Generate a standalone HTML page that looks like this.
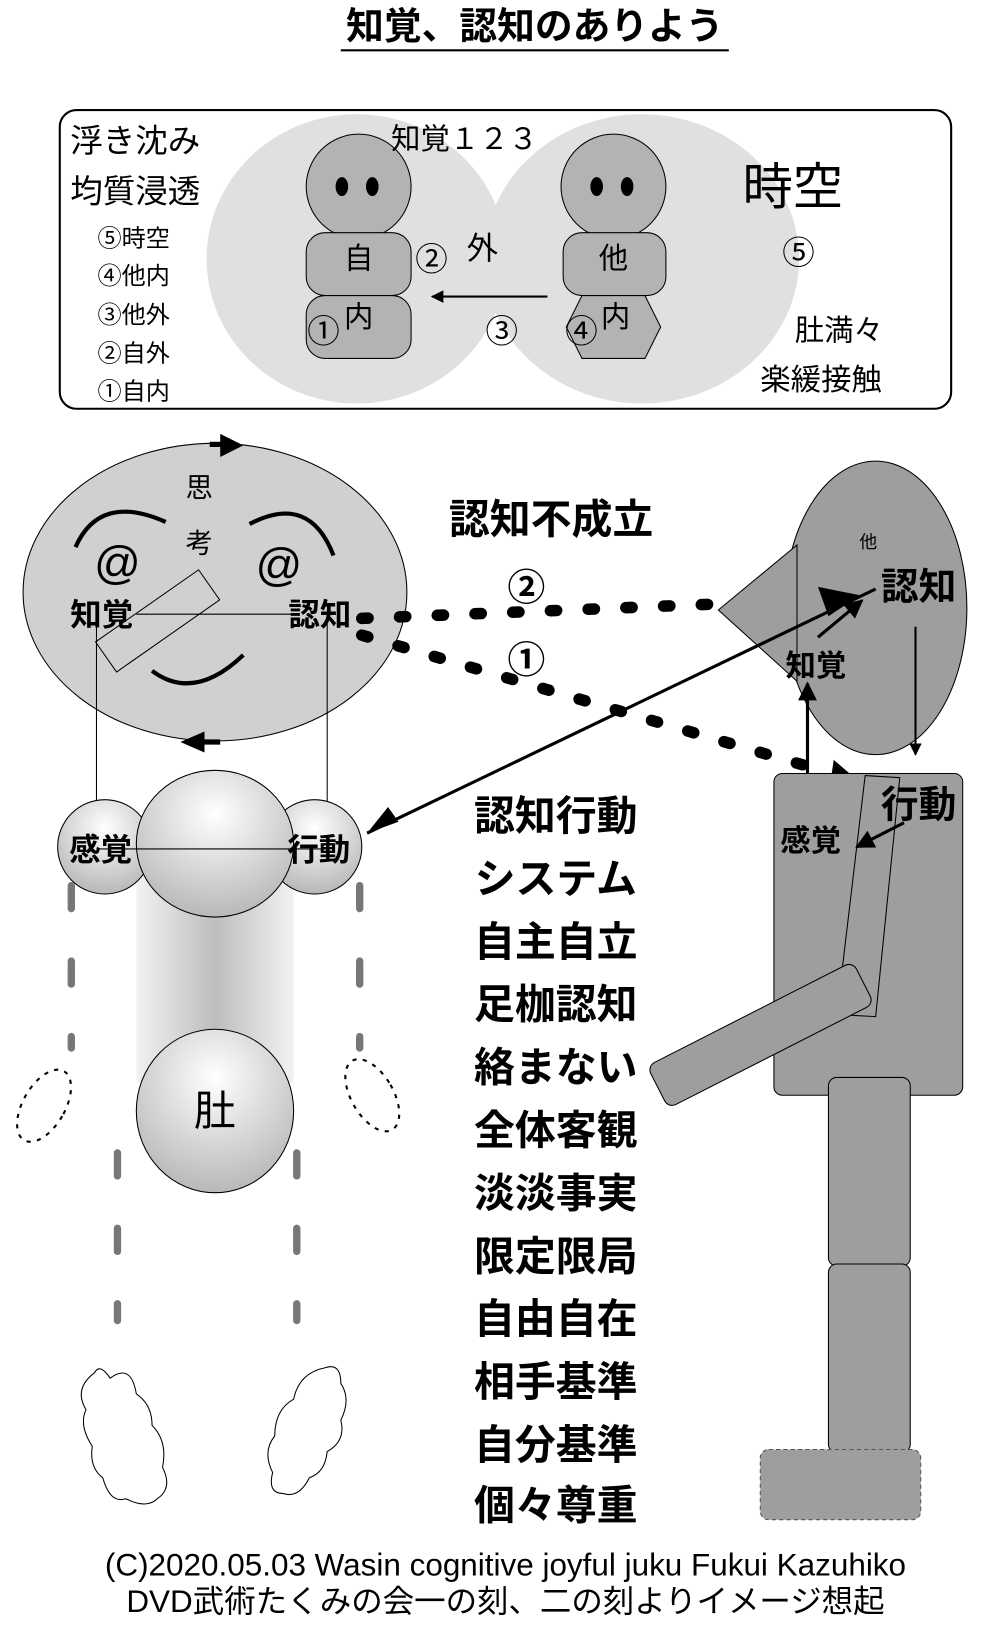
<!DOCTYPE html>
<html><head><meta charset="utf-8"><style>
html,body{margin:0;padding:0;background:#fff;}
svg{display:block;}
text{font-family:"Liberation Sans","Noto Sans CJK JP",sans-serif;}
.b{font-weight:bold;}
</style></head><body>
<svg width="991" height="1635" viewBox="0 0 945 1560" preserveAspectRatio="none" xmlns="http://www.w3.org/2000/svg">
<defs>
<radialGradient id="ball" cx="50%" cy="30%" r="70%"><stop offset="0" stop-color="#fff"/><stop offset="1" stop-color="#b8b8b8"/></radialGradient>
<linearGradient id="col" x1="0" x2="1" y1="0" y2="0"><stop offset="0" stop-color="#f2f2f2"/><stop offset="0.5" stop-color="#bdbdbd"/><stop offset="1" stop-color="#f2f2f2"/></linearGradient>
<marker id="ah" viewBox="0 0 10 10" refX="9" refY="5" markerWidth="6" markerHeight="6" orient="auto"><path d="M0,0L10,5L0,10z" fill="#000"/></marker>
</defs>
<!-- title -->
<text x="510" y="37" font-size="36" class="b" text-anchor="middle">知覚、認知のありよう</text>
<line x1="325" y1="48" x2="695" y2="48" stroke="#000" stroke-width="2"/>
<!-- top box -->
<rect x="57" y="105" width="850" height="285" rx="16" fill="#fff" stroke="#000" stroke-width="2"/>
<ellipse cx="340" cy="247" rx="143" ry="138" fill="#e0e0e0"/>
<ellipse cx="612" cy="247" rx="150" ry="138" fill="#e0e0e0"/>
<circle cx="342" cy="178" r="50" fill="#b3b3b3" stroke="#000"/>
<ellipse cx="326" cy="178" rx="6" ry="9"/><ellipse cx="355" cy="178" rx="6" ry="9"/>
<rect x="292" y="222" width="100" height="60" rx="18" fill="#b3b3b3" stroke="#000"/>
<rect x="292" y="282" width="100" height="60" rx="18" fill="#b3b3b3" stroke="#000"/>
<circle cx="585" cy="178" r="50" fill="#b3b3b3" stroke="#000"/>
<ellipse cx="569" cy="178" rx="6" ry="9"/><ellipse cx="598" cy="178" rx="6" ry="9"/>
<rect x="537" y="222" width="98" height="60" rx="18" fill="#b3b3b3" stroke="#000"/>
<path d="M555,282L615,282L630,312L615,342L555,342L540,312z" fill="#b3b3b3" stroke="#000"/>
<line x1="522" y1="283" x2="412" y2="283" stroke="#000" stroke-width="2" marker-end="url(#ah)"/>
<text x="342" y="256" font-size="28" text-anchor="middle">自</text>
<text x="585" y="256" font-size="28" text-anchor="middle">他</text>
<text x="342" y="312" font-size="28" text-anchor="middle">内</text>
<text x="587" y="312" font-size="28" text-anchor="middle">内</text>
<text x="293" y="327" font-size="31">①</text>
<text x="539" y="327" font-size="31">④</text>
<text x="396" y="258" font-size="31">②</text>
<text x="463" y="327" font-size="31">③</text>
<text x="445" y="247" font-size="30">外</text>
<text x="373" y="142" font-size="28">知覚１２３</text>
<text x="708" y="195" font-size="48">時空</text>
<text x="746" y="252" font-size="31">⑤</text>
<text x="758" y="325" font-size="28">肚満々</text>
<text x="725" y="372" font-size="29">楽緩接触</text>
<text x="67" y="145" font-size="31">浮き沈み</text>
<text x="67" y="193" font-size="31">均質浸透</text>
<text x="93" y="235" font-size="23">⑤時空</text>
<text x="93" y="271" font-size="23">④他内</text>
<text x="93" y="308" font-size="23">③他外</text>
<text x="93" y="345" font-size="23">②自外</text>
<text x="93" y="381" font-size="23">①自内</text>
<!-- big head -->
<ellipse cx="205" cy="565" rx="183" ry="142" fill="#d0d0d0" stroke="#000"/>
<path d="M200,424L215,424" stroke="#000" stroke-width="5"/><path d="M210,414L232,425L210,436z"/>
<path d="M210,708L195,708" stroke="#000" stroke-width="5"/><path d="M195,698L172,708L195,718z"/>
<text x="190" y="474" font-size="26" text-anchor="middle">思</text>
<text x="190" y="527" font-size="26" text-anchor="middle">考</text>
<path d="M72,522Q95,470 158,498" fill="none" stroke="#000" stroke-width="4"/>
<path d="M238,500Q295,470 318,530" fill="none" stroke="#000" stroke-width="4"/>
<path d="M145,640Q185,670 232,625" fill="none" stroke="#000" stroke-width="4"/>
<text x="112" y="552" font-size="44" text-anchor="middle">@</text>
<text x="266" y="554" font-size="44" text-anchor="middle">@</text>
<line x1="130" y1="586" x2="280" y2="586" stroke="#000"/>
<line x1="92" y1="586" x2="92" y2="810" stroke="#000"/>
<line x1="312" y1="586" x2="312" y2="810" stroke="#000"/>
<rect x="90" y="575" width="120" height="35" fill="none" stroke="#000" transform="rotate(-35 150 592)"/>
<text x="67" y="597" font-size="30" class="b">知覚</text>
<text x="275" y="597" font-size="30" class="b">認知</text>
<text x="428" y="509" font-size="39" class="b">認知不成立</text>
<text x="484" y="573" font-size="36" class="b">②</text>
<text x="484" y="642" font-size="36" class="b">①</text>
<!-- dashed lines -->
<path d="M345,590L790,572" stroke="#000" stroke-width="11" stroke-linecap="round" stroke-dasharray="6,30" fill="none"/>
<path d="M345,606L790,737" stroke="#000" stroke-width="11" stroke-linecap="round" stroke-dasharray="6,30" fill="none"/>
<path d="M795,725L830,755L790,760z"/>
<!-- right head -->
<ellipse cx="835" cy="580" rx="87" ry="140" fill="#9e9e9e" stroke="#000"/>
<path d="M685,582L760,520L760,650z" fill="#9e9e9e" stroke="#000"/>
<text x="828" y="523" font-size="17" text-anchor="middle">他</text>
<line x1="350" y1="795" x2="835" y2="562" stroke="#000" stroke-width="3"/>
<path d="M350,795L370,770L380,784z"/>
<path d="M820,568L780,560L790,588z"/>
<text x="840" y="572" font-size="36" class="b">認知</text>
<line x1="780" y1="608" x2="822" y2="573" stroke="#000" stroke-width="3" marker-end="url(#ah)"/>
<text x="749" y="645" font-size="29" class="b">知覚</text>
<line x1="770" y1="762" x2="770" y2="652" stroke="#000" stroke-width="3" marker-end="url(#ah)"/>
<line x1="873" y1="598" x2="873" y2="720" stroke="#000" stroke-width="2" marker-end="url(#ah)"/>
<!-- right body -->
<rect x="738" y="738" width="180" height="307" rx="8" fill="#9e9e9e" stroke="#000"/>
<path d="M825,740L858,742L835,970L798,968z" fill="none" stroke="#000"/>
<rect x="615" y="965" width="220" height="45" rx="8" fill="#9e9e9e" stroke="#000" transform="rotate(-27 725 987)"/>
<rect x="790" y="1028" width="78" height="180" rx="8" fill="#9e9e9e" stroke="#000"/>
<rect x="790" y="1206" width="78" height="180" rx="8" fill="#9e9e9e" stroke="#000"/>
<rect x="725" y="1383" width="153" height="67" rx="8" fill="#9e9e9e" stroke="#555" stroke-dasharray="4,3"/>
<text x="840" y="780" font-size="36" class="b">行動</text>
<text x="744" y="812" font-size="29" class="b">感覚</text>
<line x1="862" y1="785" x2="817" y2="808" stroke="#000" stroke-width="3" marker-end="url(#ah)"/>
<!-- left body -->
<rect x="130" y="805" width="150" height="228" fill="url(#col)"/>
<circle cx="100" cy="808" r="45" fill="url(#ball)" stroke="#000"/>
<circle cx="300" cy="808" r="45" fill="url(#ball)" stroke="#000"/>
<ellipse cx="205" cy="805" rx="75" ry="70" fill="url(#ball)" stroke="#000"/>
<ellipse cx="205" cy="1060" rx="75" ry="78" fill="url(#ball)" stroke="#000"/>
<line x1="92" y1="810" x2="312" y2="810" stroke="#000"/>
<text x="66" y="821" font-size="30" class="b">感覚</text>
<text x="274" y="821" font-size="30" class="b">行動</text>
<text x="205" y="1074" font-size="40" text-anchor="middle">肚</text>
<g stroke="#777" stroke-width="7" stroke-linecap="round" fill="none" stroke-dasharray="22,50">
<path d="M68,845L68,1000"/><path d="M343,845L343,1000"/><path d="M112,1100L112,1260"/><path d="M283,1100L283,1260"/>
</g>
<ellipse cx="42" cy="1055" rx="20" ry="38" transform="rotate(30 42 1055)" fill="none" stroke="#000" stroke-width="2" stroke-dasharray="4,6"/>
<ellipse cx="355" cy="1045" rx="20" ry="38" transform="rotate(-30 355 1045)" fill="none" stroke="#000" stroke-width="2" stroke-dasharray="4,6"/>
<path d="M90,1310Q95,1300 105,1315Q125,1300 130,1330Q145,1340 145,1360Q160,1375 155,1400Q165,1420 150,1430Q140,1440 120,1430Q105,1435 98,1410Q85,1400 88,1380Q75,1360 82,1345Q70,1325 90,1310z" fill="#fff" stroke="#000"/>
<path d="M310,1305Q325,1300 325,1320Q335,1335 325,1355Q330,1375 312,1385Q310,1405 295,1410Q285,1430 270,1425Q255,1425 260,1405Q250,1385 262,1370Q262,1345 280,1335Q285,1310 310,1305z" fill="#fff" stroke="#000"/>
<!-- center list -->
<g font-size="39" class="b" text-anchor="middle">
<text x="530" y="792">認知行動</text><text x="530" y="852">システム</text><text x="530" y="912">自主自立</text><text x="530" y="972">足枷認知</text><text x="530" y="1032">絡まない</text><text x="530" y="1092">全体客観</text><text x="530" y="1152">淡淡事実</text><text x="530" y="1212">限定限局</text><text x="530" y="1272">自由自在</text><text x="530" y="1332">相手基準</text><text x="530" y="1392">自分基準</text><text x="530" y="1450">個々尊重</text>
</g>
<text x="482" y="1503" font-size="30" text-anchor="middle">(C)2020.05.03 Wasin cognitive  joyful juku Fukui Kazuhiko</text>
<text x="482" y="1538" font-size="30" text-anchor="middle">DVD武術たくみの会一の刻、二の刻よりイメージ想起</text>
</svg>
</body></html>
